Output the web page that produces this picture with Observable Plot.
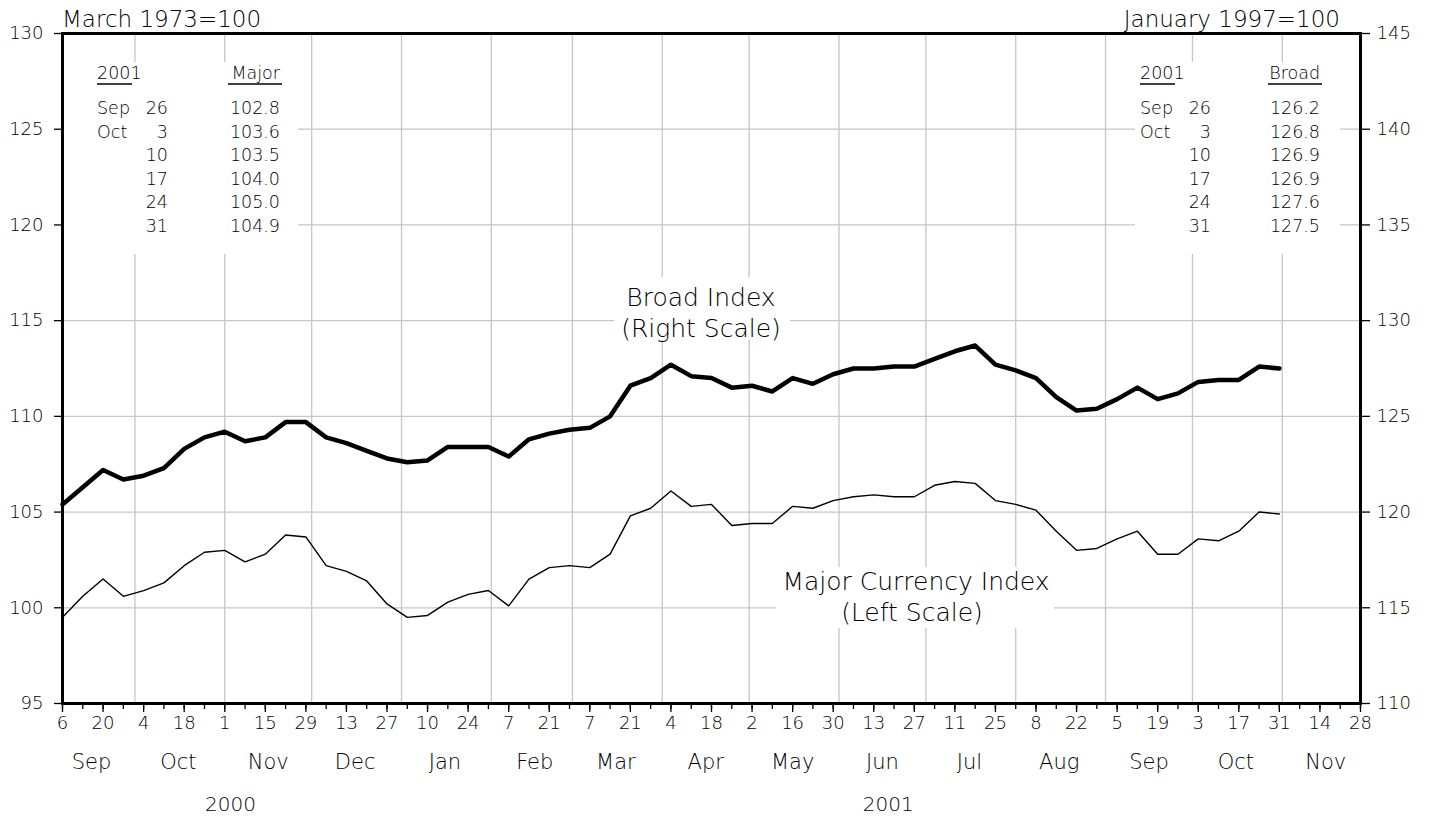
<!DOCTYPE html>
<html><head><meta charset="utf-8">
<script src="https://cdn.jsdelivr.net/npm/d3@7"></script>
<script src="https://cdn.jsdelivr.net/npm/@observablehq/plot@0.6"></script>
<style>
body{margin:0;background:#fff;}
#wrap{position:relative;width:1434px;height:817px;overflow:hidden;}
#wrap svg{position:absolute;left:0;top:0;}
</style></head><body><div id="wrap"></div>
<script>
// Weekly observations (Wednesdays), Sep 6 2000 .. Oct 31 2001
const firstWeek = "2000-09-06";
const lastWeek = "2001-10-31";
const majorIndex = [99.5,100.6,101.5,100.6,100.9,101.3,102.2,102.9,103.0,102.4,
  102.8,103.8,103.7,102.2,101.9,101.4,100.2,99.5,99.6,100.3,
  100.7,100.9,100.1,101.5,102.1,102.2,102.1,102.8,104.8,105.2,
  106.1,105.3,105.4,104.3,104.4,104.4,105.3,105.2,105.6,105.8,
  105.9,105.8,105.8,106.4,106.6,106.5,105.6,105.4,105.1,104.0,
  103.0,103.1,103.6,104.0,102.8,102.8,103.6,103.5,104.0,105.0,104.9];
const broadIndex = [120.4,121.3,122.2,121.7,121.9,122.3,123.3,123.9,124.2,123.7,
  123.9,124.7,124.7,123.9,123.6,123.2,122.8,122.6,122.7,123.4,
  123.4,123.4,122.9,123.8,124.1,124.3,124.4,125.0,126.6,127.0,
  127.7,127.1,127.0,126.5,126.6,126.3,127.0,126.7,127.2,127.5,
  127.5,127.6,127.6,128.0,128.4,128.7,127.7,127.4,127.0,126.0,
  125.3,125.4,125.9,126.5,125.9,126.2,126.8,126.9,126.9,127.6,127.5];

const leftTicks = [95,100,105,110,115,120,125,130];
const scaleOffset = 15; // right scale = left scale + 15
const domainStart = "2000-09-06";
const domainEnd = "2001-11-28";

const tableMonths = ["Sep","Oct","","","",""];
const tableDays = ["26","3","10","17","24","31"];
const tableMajor = ["102.8","103.6","103.5","104.0","105.0","104.9"];
const tableBroad = ["126.2","126.8","126.9","126.9","127.6","127.5"];

const dates = d3.utcWednesday.range(new Date(firstWeek), d3.utcDay.offset(new Date(lastWeek), 1));
const data = dates.map((d, i) => ({date: d, major: majorIndex[i], broad: broadIndex[i]}));

const x0 = new Date(domainStart), x1 = new Date(domainEnd);
const weekTicks = d3.utcWednesday.range(x0, d3.utcDay.offset(x1, 1));
const biweekTicks = weekTicks.filter((d, i) => i % 2 === 0);
const monthStarts = d3.utcMonth.range(d3.utcDay.offset(x0, 1), x1);
const monthMids = d3.utcMonth.range(d3.utcMonth.floor(x0), x1).map(m => d3.utcDay.offset(m, 15));
const yearMids = [
  new Date((+x0 + +new Date("2000-12-31")) / 2),
  new Date("2001-06-18")
];

const FONT = "DejaVu Sans";
const grid = "#c6c6c6";

const chart = Plot.plot({
  width: 1434, height: 817,
  marginLeft: 62, marginRight: 74, marginTop: 33, marginBottom: 114,
  style: {fontFamily: FONT, fontWeight: 200, fontSize: "17px", background: "white", color: "black"},
  x: {type: "utc", domain: [x0, x1], label: null},
  y: {domain: [95, 130], label: null},
  marks: [
    Plot.gridY(leftTicks.slice(1, -1), {stroke: grid, strokeOpacity: 1, strokeWidth: 1.3}),
    Plot.gridX(monthStarts, {stroke: grid, strokeOpacity: 1, strokeWidth: 1.3}),
    Plot.lineY(data, {x: "date", y: "major", stroke: "black", strokeWidth: 1.4}),
    Plot.lineY(data, {x: "date", y: d => d.broad - scaleOffset, stroke: "black", strokeWidth: 4.5}),
    Plot.axisY(leftTicks, {anchor: "left", tickSize: 8, tickPadding: 11, fontSize: 18, label: null, strokeWidth: 1.3}),
    Plot.axisY(leftTicks, {anchor: "right", tickSize: 9, tickPadding: 7, fontSize: 18, label: null, strokeWidth: 1.3, tickFormat: d => String(d + scaleOffset)}),
    Plot.axisX(weekTicks, {anchor: "bottom", tickSize: 6, tickFormat: () => "", label: null, strokeWidth: 1.3}),
    Plot.axisX(biweekTicks, {anchor: "bottom", tickSize: 9, tickPadding: 4, fontSize: 18, tickFormat: d3.utcFormat("%-d"), label: null, strokeWidth: 1.3}),
    Plot.axisX(monthMids, {anchor: "bottom", tickSize: 0, tickPadding: 51, fontSize: 21, tickFormat: d3.utcFormat("%b"), label: null}),
    Plot.axisX(yearMids, {anchor: "bottom", tickSize: 0, tickPadding: 93, fontSize: 20, tickFormat: d3.utcFormat("%Y"), label: null}),
    Plot.frame({stroke: "black", strokeWidth: 3})
  ]
});
document.getElementById("wrap").appendChild(chart);

// annotation overlay
const ov = d3.select("#wrap").append("svg").attr("width", 1434).attr("height", 817)
  .style("font-family", FONT).style("font-weight", 200);
function txt(t, x, y, size, anchor) {
  ov.append("text").attr("x", x).attr("y", y).attr("font-size", size)
    .attr("text-anchor", anchor || "start").attr("fill", "black").text(t);
}
function mask(x, y, w, h) { ov.append("rect").attr("x", x).attr("y", y).attr("width", w).attr("height", h).attr("fill", "white"); }
function uline(xa, xb, y) { ov.append("line").attr("x1", xa).attr("x2", xb).attr("y1", y).attr("y2", y).attr("stroke", "black").attr("stroke-width", 1.3); }

mask(64, 62, 234, 192);
mask(1135, 62, 205, 192);
mask(614, 277, 176, 63);
mask(776, 567, 278, 61);

txt("March 1973=100", 62, 27, 23);
txt("January 1997=100", 1340, 27, 23, "end");

function table(xMonth, xDay, xVal, header, vals) {
  txt("2001", xMonth, 79, 17.5);
  uline(xMonth, xMonth + 35, 84);
  txt(header, xVal, 79, 17.5, "end");
  uline(xVal - 52, xVal + 2, 84);
  vals.forEach((v, i) => {
    const y = 114 + 23.6 * i;
    if (tableMonths[i]) txt(tableMonths[i], xMonth, y, 17.5);
    txt(tableDays[i], xDay, y, 17.5, "end");
    txt(v, xVal, y, 17.5, "end");
  });
}
table(97, 168, 280, "Major", tableMajor);
table(1140, 1211, 1320, "Broad", tableBroad);

txt("Broad Index", 701, 306, 25, "middle");
txt("(Right Scale)", 701, 337, 25, "middle");
txt("Major Currency Index", 916, 590, 25, "middle");
txt("(Left Scale)", 912, 621, 25, "middle");
</script>
</body></html>
